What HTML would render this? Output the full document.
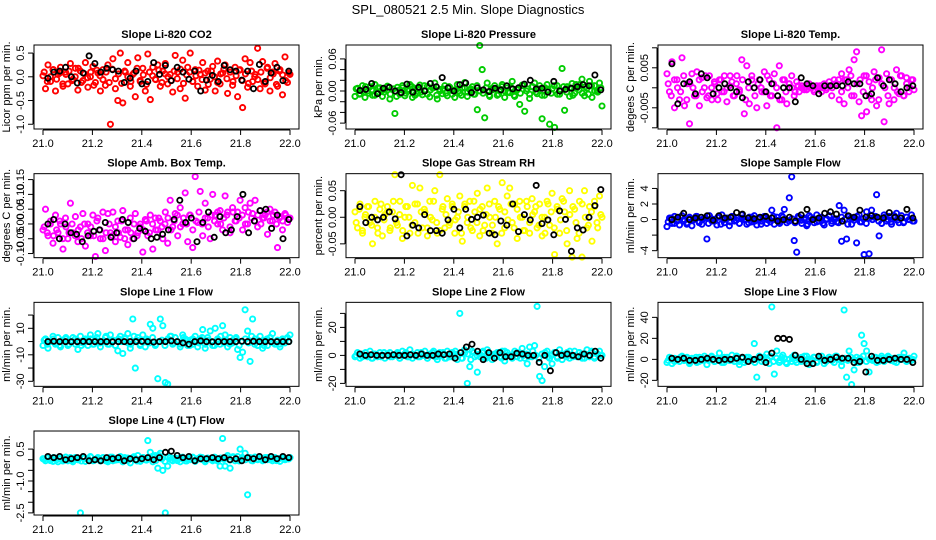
<!DOCTYPE html>
<html><head><meta charset="utf-8"><style>
body{margin:0;background:#fff;}
svg{display:block;font-family:"Liberation Sans",Arial,sans-serif;}
</style></head><body>
<svg id="chart" width="936" height="540" viewBox="0 0 936 540" xmlns="http://www.w3.org/2000/svg">
<rect width="936" height="540" fill="#fff"/>
<text x="468" y="14" text-anchor="middle" font-size="13">SPL_080521  2.5 Min. Slope Diagnostics</text>
</svg>
<script>
const xTicks=[21.0,21.2,21.4,21.6,21.8,22.0];
const xTickLabels=["21.0","21.2","21.4","21.6","21.8","22.0"];
const titles=["Slope Li-820 CO2","Slope Li-820 Pressure","Slope Li-820 Temp.","Slope Amb. Box Temp.","Slope Gas Stream RH","Slope Sample Flow","Slope Line 1 Flow","Slope Line 2 Flow","Slope Line 3 Flow","Slope Line 4 (LT) Flow"];
const yTitles=["Licor ppm per min.","kPa per min.","degees C per min.","degrees C per min.","percent per min.","ml/min per min.","ml/min per min.","ml/min per min.","ml/min per min.","ml/min per min."];
const colors=["#ff0000","#00cc00","#ff00ff","#ff00ff","#ffff00","#0000ff","#00ffff","#00ffff","#00ffff","#00ffff"];
const yLims=[[-1.1,0.67],[-0.071,0.086],[-0.0103,0.0107],[-0.114,0.17],[-0.076,0.082],[-4.9,5.9],[-33.8,29.6],[-22.1,37.9],[-25.7,54.3],[-2.6,1.35]];
const yTicks=[[-1,-0.5,0,0.5],[-0.06,-0.04,-0.02,0,0.02,0.04,0.06],[-0.01,-0.005,0,0.005,0.01],[-0.1,-0.05,0,0.05,0.1,0.15],[-0.05,0,0.05],[-4,-2,0,2,4],[-30,-20,-10,0,10,20],[-20,-10,0,10,20,30],[-20,0,20,40],[-2.5,-2,-1.5,-1,-0.5,0,0.5]];
const yTickLabels=[{"-1":"-1.0","-0.5":"-0.5","0":"0.0","0.5":"0.5"},{"-0.06":"-0.06","0":"0.00","0.06":"0.06"},{"-0.005":"-0.005","0.005":"0.005"},{"-0.1":"-0.10","-0.05":"-0.05","0":"0.00","0.05":"0.05","0.1":"0.10","0.15":"0.15"},{"-0.05":"-0.05","0":"0.00","0.05":"0.05"},{"-4":"-4","0":"0","2":"2","4":"4"},{"-30":"-30","-10":"-10","10":"10"},{"-20":"-20","0":"0","20":"20"},{"-20":"-20","0":"0","20":"20","40":"40"},{"-2.5":"-2.5","-1":"-1.0","0.5":"0.5"}];

const co2=[0.02,-0.25,0.25,-0.1,0.15,-0.3,0.05,0.2,-0.2,0.1,-0.15,0.28,-0.05,0.18,-0.28,0.12,-0.08,0.3,-0.22,0.0,0.22,-0.12,0.08,-0.3,0.15,-0.18,0.25,-1.0,0.38,-0.25,-0.5,0.5,-0.55,0.1,0.3,-0.2,0.05,-0.42,0.4,-0.1,0.18,-0.3,0.48,-0.48,0.2,-0.05,0.25,-0.2,0.12,0.28,-0.15,0.05,-0.32,0.45,0.1,-0.25,0.35,-0.45,0.2,0.5,-0.1,0.15,-0.2,0.05,0.3,-0.28,0.12,-0.05,0.22,-0.3,0.33,-0.15,0.08,0.25,-0.35,0.1,-0.18,0.2,-0.42,0.15,-0.65,0.38,-0.22,0.3,-0.1,0.05,0.6,-0.25,0.32,-0.15,0.2,-0.3,0.1,0.28,-0.2,0.15,-0.38,0.42,-0.12,0.05];
const co2Band=[0.1,-0.1,0.0,0.15,-0.05,0.08,-0.15,0.05,0.12,-0.08,0.0,0.18,-0.12,0.06,-0.02,0.1,-0.18,0.14,0.02,-0.06,0.1,-0.12,0.16,-0.04,0.06,-0.14,0.12,0.0,-0.1,0.08,0.18,-0.08,0.04,-0.16,0.1,0.02,-0.06,0.14,-0.12,0.06,0.0,-0.08,0.12,-0.04,0.16,-0.14,0.04,0.1,-0.1,0.02,0.14,-0.06,0.08,-0.16,0.12,0.0,-0.12,0.06,0.16,-0.04,0.1,-0.1,0.02,0.14,-0.08,0.06,-0.14,0.12,0.0,-0.06,0.1,-0.12,0.18,-0.02,0.06,-0.16,0.12,0.04,-0.08,0.08];
const co2Black=[-0.03,0.1,0.12,0.2,0.0,-0.13,0.08,0.44,0.28,0.1,0.18,0.15,0.12,-0.12,-0.03,0.12,-0.15,-0.1,0.3,0.05,0.24,-0.08,0.2,0.1,-0.05,0.12,-0.3,-0.07,0.03,-0.1,0.24,0.15,0.12,-0.07,0.12,-0.25,0.26,-0.1,0.08,0.2,-0.08,0.12];
const pres=[-0.01,0.005,-0.005,0.01,-0.012,0.0,0.008,-0.008,0.012,-0.003,0.006,-0.01,0.003,0.009,-0.015,0.004,-0.042,0.007,-0.006,0.01,-0.009,0.002,0.012,-0.012,0.005,-0.004,0.011,-0.007,0.0,0.009,-0.011,0.006,0.015,-0.015,0.003,-0.005,0.01,-0.009,0.007,0.001,-0.012,0.012,-0.004,0.005,0.016,-0.01,0.002,0.008,-0.006,-0.035,0.085,0.04,-0.05,0.015,-0.01,0.005,0.01,-0.008,0.003,0.012,-0.012,0.006,-0.003,0.018,-0.01,0.002,-0.025,0.011,-0.038,0.004,-0.014,0.008,0.015,-0.005,0.01,-0.052,-0.008,0.012,-0.062,0.004,-0.068,0.01,-0.006,0.042,-0.036,0.008,-0.01,0.014,-0.004,0.006,0.012,0.022,-0.009,0.005,0.018,-0.012,0.01,0.0,0.015,-0.028];
const presBand=[0.004,-0.006,0.0,0.008,-0.004,0.002,-0.008,0.006,0.0,-0.002,0.008,-0.006,0.004,-0.01,0.002,0.006,-0.004,0.0,0.008,-0.008,0.004,-0.002,0.01,-0.006,0.002,0.006,-0.008,0.0,0.004,-0.004,0.008,-0.006,0.002,0.0,-0.008,0.006,-0.002,0.004,-0.006,0.01,0.0,-0.004,0.006,-0.008,0.002,0.004,-0.006,0.008,0.0,-0.002,0.006,-0.008,0.004,-0.004,0.01,0.0,-0.006,0.008,-0.002,0.004,-0.008,0.006,0.002,-0.004,0.01,-0.006,0.0,0.008,-0.002,0.006,-0.008,0.012,0.002,-0.004,0.008,-0.006,0.01,0.0,-0.002,0.006];
const presBlack=[0.001,0.003,0.014,-0.005,0.005,0.007,0.0,-0.003,0.013,-0.002,0.007,0.0,0.014,0.008,0.025,0.006,0.0,0.012,0.015,-0.003,0.006,0.002,-0.001,0.005,0.002,0.01,0.004,0.006,0.013,0.02,0.004,0.005,-0.002,0.018,0.0,0.003,0.005,0.008,0.012,0.01,0.03,0.002];
const temp=[0.0035,-0.001,0.0065,-0.005,0.002,-0.003,0.0075,-0.0045,0.001,-0.009,0.0035,-0.002,0.004,-0.0045,0.0025,0.0,-0.0025,0.003,-0.003,0.0015,-0.0015,0.002,-0.001,0.003,-0.0035,0.0005,0.0015,-0.002,0.003,-0.0005,0.007,-0.0065,0.0055,-0.004,0.003,0.0,-0.005,0.002,-0.001,0.004,-0.0045,0.002,-0.002,0.0035,-0.01,0.0055,-0.003,0.002,-0.004,0.001,0.003,-0.002,0.0015,-0.001,0.0005,0.0,-0.0005,0.001,0.0,-0.001,0.0005,0.0,-0.001,0.001,0.0,0.0015,-0.002,0.002,0.001,-0.003,0.0035,-0.004,0.002,0.0045,-0.002,0.007,0.009,-0.0035,-0.007,0.003,-0.006,0.0015,-0.003,0.004,-0.0045,0.0025,0.0095,-0.0085,0.0035,-0.004,0.002,-0.003,0.0045,-0.0015,0.003,-0.002,0.0025,-0.001,0.002,-0.0005];
const tempBand=[0.001,-0.002,0.002,0.0,-0.001,0.003,-0.003,0.001,0.0,-0.002,0.002,-0.001,0.003,-0.002,0.0,0.001,-0.003,0.002,-0.001,0.0,0.003,-0.002,0.001,-0.001,0.002,-0.003,0.0,0.002,-0.002,0.001,0.0,-0.001,0.003,-0.002,0.001,0.0,-0.003,0.002,-0.001,0.001,0.0,-0.001,0.0005,0.0,-0.0005,0.0005,0.0,-0.0005,0.0,0.0005,0.0,-0.0005,0.0005,0.0,0.001,0.002,-0.001,0.002,0.0,0.003,-0.002,0.001,0.002,-0.001,0.003,-0.002,0.0,0.002,-0.003,0.001,0.0,-0.002,0.002,0.0,-0.001,0.003,-0.002,0.001,0.0,0.002];
const tempBlack=[0.006,-0.004,0.001,0.0015,-0.0015,0.0035,0.0025,-0.0015,0.0,0.001,0.0,-0.001,-0.0025,0.0015,0.0,0.002,-0.001,0.001,-0.002,0.0,0.0,-0.0035,0.0025,0.001,0.0005,-0.0015,0.0005,0.0005,0.0005,0.0005,0.0015,0.001,0.001,-0.002,-0.0015,0.0025,0.0005,0.002,0.001,-0.001,0.0,0.0005];
const amb=[-0.02,0.05,-0.04,0.01,-0.065,0.03,-0.03,0.0,-0.085,0.02,-0.05,0.07,-0.03,0.025,-0.06,-0.01,0.035,-0.075,0.0,-0.04,0.03,-0.11,0.02,-0.05,0.04,-0.09,0.035,-0.03,0.04,-0.06,0.01,-0.045,0.045,-0.02,-0.07,0.02,-0.05,0.035,-0.03,0.0,-0.095,0.015,-0.04,0.03,-0.085,0.02,-0.02,0.01,-0.05,0.04,-0.065,0.08,-0.01,0.035,-0.04,0.055,0.0,0.105,-0.06,0.03,-0.08,0.16,0.005,0.11,-0.04,0.07,0.02,-0.05,0.1,0.03,0.0,0.045,-0.02,0.095,0.04,-0.03,0.055,0.01,0.04,0.08,-0.02,0.055,0.0,0.07,0.035,0.08,-0.01,0.045,0.02,0.03,-0.035,0.05,0.01,0.04,-0.08,0.025,-0.02,0.035,0.005,0.02];
const ambBand=[-0.01,-0.03,0.0,-0.04,-0.02,0.01,-0.05,-0.01,-0.03,0.0,-0.04,-0.02,-0.05,0.0,-0.03,-0.01,-0.04,0.01,-0.02,-0.05,-0.03,0.0,-0.04,-0.01,-0.03,0.01,-0.05,-0.02,-0.03,0.0,-0.04,-0.01,-0.02,0.01,-0.03,0.0,-0.02,0.02,-0.01,0.0,0.02,-0.02,0.01,0.03,-0.01,0.02,0.0,0.03,-0.02,0.01,0.04,0.0,0.02,-0.01,0.03,0.01,0.04,0.0,0.02,0.03,-0.01,0.04,0.01,0.02,0.03,0.0,0.04,0.02,0.01,0.03,0.0,0.02,0.04,0.01,0.03,0.0,0.02,0.01,0.03,0.02];
const ambBlack=[0.0,0.015,-0.05,0.0,-0.03,-0.035,-0.06,-0.04,-0.025,-0.02,0.005,-0.045,-0.03,0.015,0.005,-0.05,-0.015,-0.025,-0.05,-0.045,-0.035,-0.02,0.015,0.08,0.005,0.02,-0.06,0.005,0.04,-0.045,0.025,-0.03,-0.02,0.025,0.1,-0.03,0.01,0.045,0.05,-0.015,0.03,-0.05,0.015];
const rh=[0.01,-0.02,0.025,-0.03,0.0,0.02,-0.01,-0.05,0.03,-0.02,0.015,-0.035,0.005,0.02,-0.025,0.01,0.08,-0.015,0.03,-0.04,0.0,0.02,-0.03,0.06,-0.01,0.025,0.055,-0.02,0.01,-0.035,0.03,-0.005,0.05,-0.03,0.08,0.015,-0.02,0.035,-0.01,0.02,-0.03,0.0,0.04,-0.045,0.025,-0.01,0.03,-0.025,0.01,0.045,-0.035,0.02,-0.015,0.055,0.0,-0.03,0.03,-0.05,0.015,0.065,-0.02,0.04,0.055,-0.01,0.025,-0.04,0.03,0.0,-0.025,0.02,-0.03,0.035,0.01,-0.02,0.025,-0.035,0.0,0.03,-0.015,0.045,-0.07,0.02,-0.03,0.035,0.01,-0.05,0.05,-0.075,0.015,-0.04,0.03,-0.075,0.05,-0.02,0.02,-0.045,0.03,-0.01,0.04,0.0];
const rhBand=[-0.01,0.015,-0.025,0.005,0.02,-0.015,0.0,-0.03,0.025,-0.005,0.01,-0.02,0.03,-0.01,0.005,-0.025,0.02,0.0,-0.015,0.025,-0.03,0.01,0.015,-0.02,0.0,0.03,-0.01,-0.025,0.02,0.005,-0.015,0.025,-0.005,0.01,-0.03,0.02,0.0,-0.02,0.03,-0.01,0.015,-0.025,0.005,0.025,-0.015,0.0,0.02,-0.03,0.01,-0.005,0.025,-0.02,0.015,0.0,-0.025,0.03,-0.01,0.005,0.02,-0.015,0.0,-0.03,0.025,0.01,-0.02,0.015,-0.005,0.03,-0.025,0.005,0.02,-0.01,-0.03,0.025,0.0,-0.015,0.01,0.02,-0.02,0.005];
const rhBlack=[0.02,-0.01,0.0,-0.005,0.0,0.01,-0.003,0.08,-0.035,-0.015,-0.02,0.005,-0.025,-0.025,-0.03,-0.005,0.015,-0.02,0.015,-0.004,0.0,0.004,-0.03,-0.033,-0.007,-0.015,0.025,-0.027,0.005,-0.005,0.06,-0.012,-0.005,-0.033,0.012,-0.004,-0.064,-0.02,-0.024,0.0,0.022,0.052];
const flow=[-0.9,0.2,-0.5,0.4,-0.2,-0.7,0.5,0.0,-0.4,0.3,-0.8,0.1,0.4,-0.3,-0.6,0.2,-2.5,0.5,-0.2,0.0,-0.7,0.3,0.6,-0.4,0.1,-0.8,0.4,-0.2,0.2,-0.5,0.6,0.0,-0.6,0.3,-0.3,0.5,-0.7,0.1,-0.2,0.4,-0.5,0.0,1.2,-0.6,0.3,-0.3,0.5,1.3,-0.4,2.8,5.5,-2.7,-4.2,0.3,-0.5,0.2,-0.8,0.5,0.0,-0.4,0.6,-0.2,0.3,-0.7,0.1,0.5,-0.5,0.0,-0.3,1.8,-2.8,1.2,-2.5,0.4,-0.6,0.2,-3.0,0.6,-0.3,-4.5,1.0,-4.4,1.2,0.3,3.2,-2.1,-0.5,0.6,-0.2,0.4,-0.6,0.2,0.8,-0.4,0.5,-0.3,0.3,0.0,0.6,-0.2];
const flowBand=[-0.3,0.2,-0.5,0.0,0.3,-0.2,-0.6,0.1,-0.1,0.4,-0.4,0.0,0.2,-0.5,0.1,-0.2,0.3,-0.6,0.0,0.2,-0.3,0.4,-0.1,-0.5,0.2,0.0,-0.4,0.3,-0.2,0.1,-0.6,0.2,0.0,-0.3,0.4,-0.1,-0.5,0.3,0.0,-0.2,0.1,-0.4,0.4,-0.1,0.0,-0.6,0.3,0.1,-0.3,0.2,-0.5,0.0,0.4,-0.2,0.1,-0.4,0.3,0.0,-0.6,0.2,-0.1,0.4,-0.3,0.1,-0.5,0.2,0.0,0.4,-0.2,-0.5,0.3,0.0,-0.3,0.5,-0.1,0.2,-0.4,0.3,0.0,-0.2];
const flowBlack=[0.0,0.3,0.8,0.0,0.2,0.3,0.5,-0.1,0.5,0.2,0.3,0.9,0.7,0.2,0.1,0.3,0.4,0.2,-0.2,0.0,0.3,-0.2,0.6,1.3,0.0,0.2,0.8,1.0,0.7,-0.2,0.5,0.3,1.2,0.3,0.5,0.3,0.2,0.9,0.3,0.2,1.3,0.2];
const line1=[-3,2,-5,0,4,-2,3,-4,1,2,-3,0,3,-2,-6,4,-1,2,-3,5,-2,1,6,-4,0,3,-2,5,1,-3,-7,4,-9,2,6,-5,17,-20,3,-2,5,-4,1,13,10,-3,-28,17,12,-31,-32,4,-2,3,0,-4,5,2,-3,1,-2,4,-4,2,9,-5,3,8,-3,10,1,-2,12,5,-4,3,-1,2,-6,-12,-8,24,8,-15,17,2,-3,4,-5,1,-3,3,6,-2,1,-4,2,-1,3,5];
const line1Band=[1,-2,0,2,-1,-3,1,3,-2,0,2,-1,-3,1,0,2,-2,3,-1,0,4,-2,1,-3,2,0,3,-1,-2,4,1,-3,0,2,-1,3,-2,0,1,-3,2,4,-1,0,-2,3,1,-3,2,0,-1,3,-2,1,0,-3,2,4,-1,0,-2,1,3,-3,0,2,-1,4,-2,1,0,-3,2,3,-1,0,-2,1,2,0];
const line1Black=[0,0.2,0,0,-0.1,0,0.1,0,0,0,0,-0.2,0,0,0,0,0.1,0,-0.3,0,0,0.5,0,-1,-2,0,0.5,0,-0.2,0,0,0,0,0.3,0,0.2,0,0,0,0,0,0];
const line2=[-1,2,-2,1,0,-1,3,-2,1,-1,2,0,-2,1,2,-1,0,2,-2,3,1,-1,4,-2,0,2,-1,1,3,-2,0,2,-1,-3,2,1,-2,3,-1,2,1,-3,30,-2,2,-20,-8,3,-1,-12,1,2,-2,4,0,-3,1,2,-1,3,-4,2,0,-2,3,-1,1,5,-2,-6,6,-1,7,35,-15,-18,-8,3,-2,-6,2,-1,4,-3,1,2,-2,0,3,-1,2,1,-2,4,-1,2,-2,1,3,0];
const line2Band=[0,1,-1,2,0,-2,1,0,-1,2,1,-1,0,1,-2,0,2,-1,1,0,-1,2,0,-2,1,3,-1,0,2,-2,1,-1,3,0,-2,4,1,-3,2,0,-1,3,-2,1,0,-1,2,-2,3,0,-1,1,2,-2,0,1,-1,3,0,-2,1,2,-1,0,2,-2,1,0,-1,3,-1,0,2,-2,1,0,3,-1,1,0];
const line2Black=[1,0,0.5,0,0,0,0.5,0,0,0.5,0,1,0,0,1,0.5,1,-2,2,6,8,3,-3,2,-2,2,-1,-1,1.5,1,0,0,-5,0,-11,2,0,1,0,-1,1,0,3,-2];
const line3=[-3,2,-4,1,0,-2,3,-1,2,-4,1,0,-3,2,-1,3,-5,0,2,-2,1,6,-3,2,0,-1,4,-2,3,-5,1,-3,2,0,-1,15,-17,3,-2,2,5,-4,50,-14,8,-3,2,1,-4,0,-2,4,-3,1,2,-1,3,-5,0,2,-2,1,3,-4,0,2,-1,-3,3,0,-6,47,-17,8,-24,-10,2,-3,23,15,8,-12,0,2,-3,1,3,-2,0,2,-1,1,-3,2,0,6,-2,1,-1,3];
const line3Band=[-1,1,-2,0,2,-1,1,-3,0,2,-2,1,0,-1,3,-2,1,0,-3,2,-1,0,3,-2,1,-1,2,0,-3,1,2,-1,0,3,-2,1,-1,4,-3,0,2,-1,1,-2,3,0,-1,2,-3,1,0,-2,2,-1,3,0,-2,1,-1,2,0,-3,1,3,-2,0,-1,2,-2,1,0,3,-1,-2,1,0,2,-1,1,0];
const line3Black=[1,0,1,-1,-1,0,1,0,-1,0,0,1,2,-2,0,2,-3,6,20,20,19,4,0,-4,-4,3,-1,0,2,1,1,-3,-2,-12,3,-1,-1,0,1,0,0,-3];
const line4=[0.05,-0.05,0.1,0.0,-0.08,0.08,-0.1,0.05,0.0,0.12,-0.05,0.1,-0.1,0.06,0.0,-2.5,0.1,-0.08,0.05,0.15,-0.05,0.0,0.1,-0.06,0.08,0.0,-0.1,0.12,-0.05,0.05,0.0,0.15,-0.1,0.05,0.08,-0.15,0.1,0.0,0.2,-0.08,0.1,0.0,0.9,0.35,-0.1,0.2,-0.4,0.3,-0.5,-2.5,-0.3,0.1,-0.05,0.08,0.0,-0.1,0.12,-0.05,0.05,0.0,0.1,-0.08,0.05,0.12,0.0,-0.1,0.08,0.05,-0.05,0.1,0.0,-0.3,1.0,-0.3,0.2,-0.4,0.1,-0.05,0.15,0.5,0.05,0.3,-1.65,0.1,-0.05,0.12,0.0,0.08,-0.05,0.1,0.0,0.05,-0.05,0.1,0.0,-0.08,0.08,0.0,0.05,0.1];
const line4Band=[0.02,0.08,-0.04,0.1,0.0,0.06,-0.06,0.12,0.04,-0.02,0.1,0.0,-0.06,0.08,0.02,0.12,-0.04,0.06,0.0,0.1,-0.06,0.04,0.12,-0.02,0.08,0.0,0.1,-0.04,0.06,0.14,-0.06,0.02,0.1,-0.02,0.08,0.16,-0.04,0.2,0.04,-0.08,0.12,0.0,0.06,-0.04,0.1,0.02,-0.06,0.08,0.12,-0.02,0.04,0.1,-0.04,0.06,0.0,0.12,-0.06,0.08,0.02,0.1,-0.02,0.14,0.04,-0.06,0.1,0.0,0.08,-0.04,0.12,0.02,0.06,-0.02,0.1,0.0,0.08,-0.04,0.06,0.1,0.02,0.04];
const line4Black=[0.15,0.1,0.15,0.0,0.05,0.1,0.15,-0.05,0.0,-0.05,0.1,0.05,0.1,-0.05,0.05,0.0,0.05,0.1,0.0,0.1,0.35,0.4,0.2,0.1,0.15,-0.05,0.05,0.05,0.1,0.05,0.1,0.0,0.05,-0.05,0.1,0.05,0.15,0.0,0.15,0.05,0.15,0.1];

const seriesColored=[co2,pres,temp,amb,rh,flow,line1,line2,line3,line4];
const seriesBand=[co2Band,presBand,tempBand,ambBand,rhBand,flowBand,line1Band,line2Band,line3Band,line4Band];
const seriesBlack=[co2Black,presBlack,tempBlack,ambBlack,rhBlack,flowBlack,line1Black,line2Black,line3Black,line4Black];

const svg=document.getElementById('chart');
const NS='http://www.w3.org/2000/svg';
function mk(tag,attrs,parent){const e=document.createElementNS(NS,tag);for(const k in attrs)e.setAttribute(k,attrs[k]);(parent||svg).appendChild(e);return e;}

for(let p=0;p<10;p++){
  const col=p%3,row=Math.floor(p/3);
  const L=34+col*312,R=L+265,T=45+row*128.67,B=T+84;
  const xs=v=>L+9+(v-21)*247;
  const ys=v=>B-(v-yLims[p][0])/(yLims[p][1]-yLims[p][0])*84;
  const g=mk('g',{});
  
  
  const t=mk('text',{x:(L+R)/2,y:T-7,'text-anchor':'middle','font-size':'11','font-weight':'bold'},g);
  t.textContent=titles[p];
  
  
  const pts=mk('g',{fill:'none',stroke:colors[p],'stroke-width':'1.9'},g);
  
  
  const a=seriesColored[p];
  a.forEach((v,i)=>{const c=mk('circle',{cx:xs(21+i/(a.length-1)).toFixed(1),cy:ys(v).toFixed(1),r:2.6},pts);
    
    });
  const bd=seriesBand[p];
  bd.forEach((v,i)=>{const c=mk('circle',{cx:xs(21.005+i*0.99/(bd.length-1)).toFixed(1),cy:ys(v).toFixed(1),r:2.6},pts);
    
    });
  const bp=mk('g',{fill:'none',stroke:'#000','stroke-width':'1.8'},g);
  
  
  const b=seriesBlack[p];
  b.forEach((v,i)=>{const c=mk('circle',{cx:xs(21.02+i*0.975/(b.length-1)).toFixed(1),cy:ys(v).toFixed(1),r:2.6},bp);
    
    });
  const box=mk('rect',{x:L,y:T,width:R-L,height:B-T,fill:'none',stroke:'#000','stroke-width':'1'},g);
  
  
  const xa=mk('g',{},g);
  
  
  mk('line',{x1:xs(xTicks[0]),x2:xs(xTicks[xTicks.length-1]),y1:B+1,y2:B+1,stroke:'#000'},xa);
  xTicks.forEach((v,i)=>{mk('line',{x1:xs(v),x2:xs(v),y1:B+1,y2:B+6,stroke:'#000'},xa);
    const tl=mk('text',{x:xs(v),y:B+18,'text-anchor':'middle','font-size':'11'},xa);tl.textContent=xTickLabels[i];
    
    });
  const ya=mk('g',{},g);
  
  
  const yt=yTicks[p];
  mk('line',{x1:L-1,x2:L-1,y1:ys(yt[0]),y2:ys(yt[yt.length-1]),stroke:'#000'},ya);
  yt.forEach(v=>{const y=ys(v);mk('line',{x1:L-6,x2:L-1,y1:y,y2:y,stroke:'#000'},ya);
    const lab=yTickLabels[p][String(v)];
    if(lab!==undefined){const tl=mk('text',{x:L-10,y:y,'text-anchor':'middle','font-size':'11',transform:`rotate(-90 ${L-10} ${y})`},ya);tl.textContent=lab;
      
      }});
  const cy=(T+B)/2;
  const yl=mk('text',{x:L-24,y:cy,'text-anchor':'middle','font-size':'11',transform:`rotate(-90 ${L-24} ${cy})`},g);
  yl.textContent=yTitles[p];
  
  
}
</script>
</body></html>
